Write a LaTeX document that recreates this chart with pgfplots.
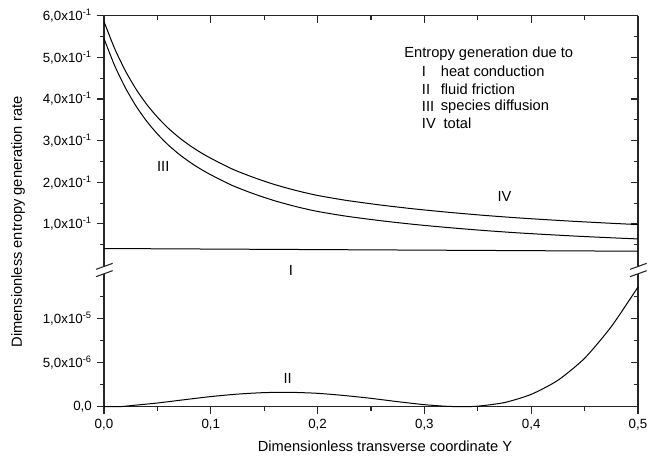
\documentclass[border=0pt]{standalone}
\usepackage{fontspec}
\setmainfont{Liberation Sans}
\usepackage{pgfplots}
\pgfplotsset{compat=1.18}

% 1 px of the reference = 0.75pt
\pgfplotsset{
  brk/.style={
    scale only axis, width=400.5pt,
    xmin=0, xmax=0.5,
    xtick={0,0.1,0.2,0.3,0.4,0.5},
    minor xtick={0.05,0.15,0.25,0.35,0.45},
    major tick length=5.6pt, minor tick length=3pt,
    axis line style={black!85, line width=0.8pt},
    every tick/.style={black!85, line width=0.8pt},
    tick label style={font=\fontsize{10}{12}\selectfont},
    anchor=south west,
  },
  upper/.style={brk, at={(0,115.2pt)}, height=178.05pt,
    ymin=0.03, ymax=0.6,
    ytick={0.1,0.2,0.3,0.4,0.5,0.6},
    minor ytick={0.05,0.15,0.25,0.35,0.45,0.55}},
  lower/.style={brk, at={(0,0)}, height=92.4pt,
    ymin=0, ymax=1.4e-5, scaled y ticks=false,
    ytick={0,5e-6,1e-5},
    minor ytick={2.5e-6,7.5e-6,1.25e-5}},
}

\begin{document}
\begin{tikzpicture}
\tikzset{lbl/.style={font=\fontsize{11}{13}\selectfont, inner sep=0pt}}

% lower part: frame ticks pointing in on the right
\begin{axis}[lower, axis x line=none, axis y line*=right,
  tick align=inside, yticklabels={}]
\end{axis}

% lower part: curve II
\begin{axis}[lower, axis x line*=bottom, axis y line*=left,
  tick align=outside,
  xticklabels={{0,0},{0,1},{0,2},{0,3},{0,4},{0,5}},
  yticklabels={{0,0},{5,0x10\textsuperscript{-6}},{1,0x10\textsuperscript{-5}}},
  clip=false]
\addplot[black, line width=0.75pt, smooth, tension=0.4] coordinates {
  (0,0) (0.015,0) (0.025,0.12e-6) (0.05,0.42e-6) (0.075,0.79e-6) (0.1,1.15e-6)
  (0.125,1.43e-6) (0.15,1.60e-6) (0.175,1.63e-6) (0.2,1.52e-6)
  (0.225,1.27e-6) (0.25,0.95e-6) (0.275,0.57e-6) (0.3,0.23e-6)
  (0.32,0.05e-6) (0.335,0) (0.35,0.06e-6) (0.375,0.47e-6)
  (0.4,1.40e-6) (0.425,3.0e-6) (0.45,5.5e-6) (0.475,9.1e-6) (0.5,13.6e-6)
};
\node[lbl] at (axis cs:0.172,3.26e-6) {II};
\end{axis}

% upper part: frame with inward ticks on top and right
\begin{axis}[upper, axis x line*=top, axis y line*=right,
  tick align=inside, xticklabels={}, yticklabels={}]
\end{axis}

% upper part: curves I, III, IV
\begin{axis}[upper, axis x line=none, axis y line*=left,
  tick align=outside,
  yticklabels={{1,0x10\textsuperscript{-1}},{2,0x10\textsuperscript{-1}},
    {3,0x10\textsuperscript{-1}},{4,0x10\textsuperscript{-1}},
    {5,0x10\textsuperscript{-1}},{6,0x10\textsuperscript{-1}}},
  clip=false]
% I heat conduction
\addplot[black, line width=0.75pt] coordinates {(0,0.041) (0.5,0.0345)};
% III species diffusion
\addplot[black, line width=0.75pt, smooth, tension=0.4] coordinates {
  (0,0.545) (0.01,0.480) (0.02,0.427) (0.03,0.383) (0.04,0.3465)
  (0.05,0.316) (0.06,0.290) (0.07,0.268) (0.08,0.249) (0.09,0.2325)
  (0.1,0.218) (0.12,0.1925) (0.14,0.1725) (0.16,0.1555) (0.18,0.1415)
  (0.2,0.130) (0.227,0.1185) (0.26,0.1075) (0.29,0.099) (0.32,0.0918)
  (0.352,0.085) (0.385,0.079) (0.415,0.0745) (0.44,0.071) (0.477,0.0665)
  (0.5,0.064)
};
% IV total
\addplot[black, line width=0.75pt, smooth, tension=0.4] coordinates {
  (0,0.586) (0.01,0.5209) (0.02,0.4677) (0.03,0.4236) (0.04,0.387)
  (0.05,0.3564) (0.06,0.3302) (0.07,0.3081) (0.08,0.289) (0.09,0.2723)
  (0.1,0.2577) (0.12,0.2319) (0.14,0.2117) (0.16,0.1944) (0.18,0.1802)
  (0.2,0.1684) (0.227,0.1565) (0.26,0.1451) (0.29,0.1362) (0.32,0.1286)
  (0.352,0.1214) (0.385,0.115) (0.415,0.1101) (0.44,0.1063) (0.477,0.1013)
  (0.5,0.0985)
};
\node[lbl] at (axis cs:0.0555,0.239) {III};
\node[lbl] at (axis cs:0.375,0.165) {IV};
\node[lbl] at (axis cs:0.175,-0.011) {I};
% key
\node[lbl, anchor=west] at (axis cs:0.281,0.508) {Entropy generation due to};
\node[lbl, anchor=west] at (axis cs:0.2975,0.4654) {I};
\node[lbl, anchor=west] at (axis cs:0.3152,0.4654) {heat conduction};
\node[lbl, anchor=west] at (axis cs:0.2975,0.423) {II};
\node[lbl, anchor=west] at (axis cs:0.3152,0.423) {fluid friction};
\node[lbl, anchor=west] at (axis cs:0.2975,0.381) {III};
\node[lbl, anchor=west] at (axis cs:0.3152,0.381) {species diffusion};
\node[lbl, anchor=west] at (axis cs:0.2975,0.341) {IV};
\node[lbl, anchor=west] at (axis cs:0.3177,0.341) {total};
\end{axis}

% axis break
\begin{scope}[black!85, line width=0.8pt]
  \foreach \xx in {0pt,400.5pt}{
    \draw (\xx,92.4pt) -- (\xx,99.75pt);
    \draw (\xx,105.3pt) -- (\xx,115.2pt);
    \draw ([xshift=-6pt]\xx,97.5pt) -- ([xshift=6.5pt]\xx,102pt);
    \draw ([xshift=-6pt]\xx,103pt) -- ([xshift=6.5pt]\xx,107.5pt);
  }
\end{scope}

\node[lbl, rotate=90] at (-64.5pt,138.5pt) {Dimensionless entropy generation rate};
\node[lbl] at (210.75pt,-29.5pt) {Dimensionless transverse coordinate Y};

\pgfresetboundingbox
\path[use as bounding box] (-78pt,-36.975pt) rectangle (418.5pt,305.025pt);
\end{tikzpicture}
\end{document}
